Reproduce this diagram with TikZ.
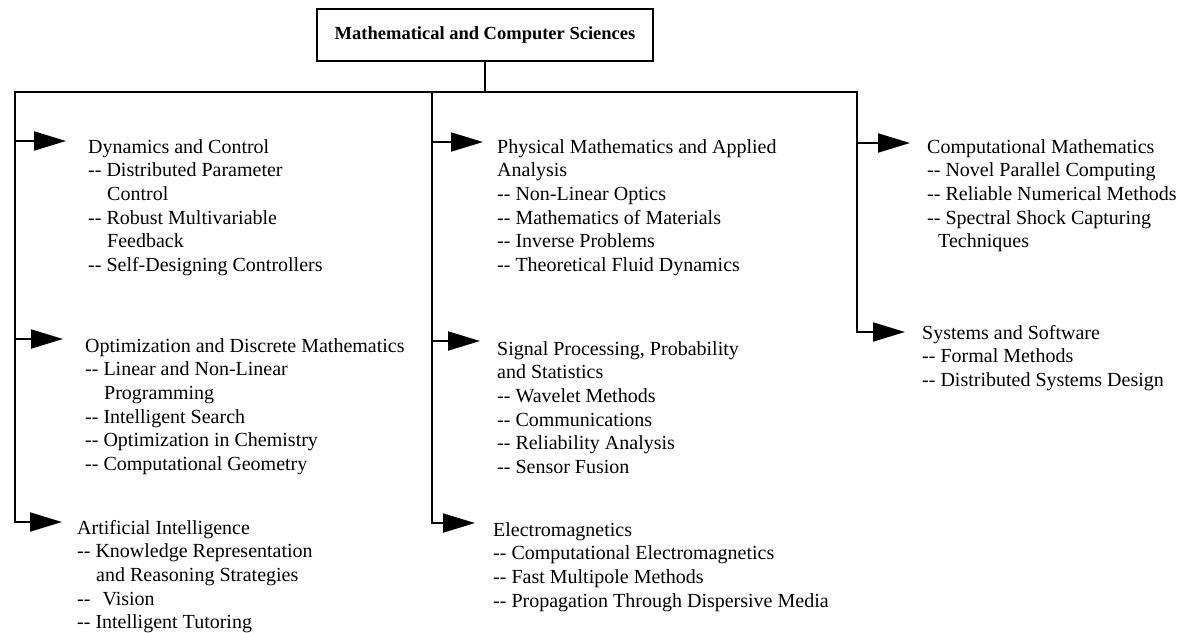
\documentclass[tikz,border=0pt]{standalone}
\usepackage{fontspec}
\setmainfont{Liberation Serif}
\usetikzlibrary{arrows.meta}
\newcommand\indt{\hspace*{19pt}}
\newcommand\dd{-{}-}
\begin{document}
\begin{tikzpicture}[x=1pt,y=-1pt,
  conn/.style={line width=2pt, line cap=rect, line join=miter},
  arr/.style={line width=2pt, -{Triangle[length=32pt,width=19pt]}},
  blk/.style={anchor=north west, inner sep=0pt, align=left, font=\fontsize{20}{23.6}\selectfont},
  titlebox/.style={draw, line width=2pt, inner sep=0pt, minimum width=336pt, minimum height=52pt, font=\fontsize{18.5}{22}\selectfont\bfseries}]
\useasboundingbox[fill=white] (0,0) rectangle (1182,632);

% title
\node[titlebox] (top) at (485,35) {Mathematical and Computer Sciences};

% junction coordinates
\coordinate (hub) at (485,92);
\coordinate (hl) at (15,92);
\coordinate (hm) at (432,92);
\coordinate (hr) at (857,92);
\coordinate (lend) at (15,522);
\coordinate (mend) at (432,523);
\coordinate (rend) at (857,332);

% text blocks
\node[blk] (dyn) at (88,136.5) {\strut Dynamics and Control\\\dd{} Distributed Parameter\\\indt Control\\\dd{} Robust Multivariable\\\indt Feedback\\\dd{} Self-Designing Controllers};
\node[blk] (opt) at (85,335.5) {\strut Optimization and Discrete Mathematics\\\dd{} Linear and Non-Linear\\\indt Programming\\\dd{} Intelligent Search\\\dd{} Optimization in Chemistry\\\dd{} Computational Geometry};
\node[blk] (ai) at (77,517.5) {\strut Artificial Intelligence\\\dd{} Knowledge Representation\\\indt and Reasoning Strategies\\\dd{}\hspace*{7pt} Vision\\\dd{} Intelligent Tutoring};

\node[blk] (phy) at (497,136.5) {\strut Physical Mathematics and Applied\\Analysis\\\dd{} Non-Linear Optics\\\dd{} Mathematics of Materials\\\dd{} Inverse Problems\\\dd{} Theoretical Fluid Dynamics};
\node[blk] (sig) at (497,338.5) {\strut Signal Processing, Probability\\and Statistics\\\dd{} Wavelet Methods\\\dd{} Communications\\\dd{} Reliability Analysis\\\dd{} Sensor Fusion};
\node[blk] (ele) at (493,519.5) {\strut Electromagnetics\\\dd{} Computational Electromagnetics\\\dd{} Fast Multipole Methods\\\dd{} Propagation Through Dispersive Media};

\node[blk] (cmp) at (927,136.5) {\strut Computational Mathematics\\\dd{} Novel Parallel Computing\\\dd{} Reliable Numerical Methods\\\dd{} Spectral Shock Capturing\\\hspace*{11pt}Techniques};
\node[blk] (sys) at (922,322.5) {\strut Systems and Software\\\dd{} Formal Methods\\\dd{} Distributed Systems Design};

% trunk lines
\draw[conn] (top.south) -- (hub);
\draw[conn] (lend) -- (hl) -- (hr) -- (rend);
\draw[conn] (hm) -- (mend);

% arrow tips
\coordinate (tdyn) at (66,141);
\coordinate (topt) at (63,339);
\coordinate (tai) at (62,522);
\coordinate (tphy) at (483,142);
\coordinate (tsig) at (480,341);
\coordinate (tele) at (475,523);
\coordinate (tcmp) at (910,143);
\coordinate (tsys) at (905,332);

\draw[arr] (15,141) -- (tdyn);
\draw[arr] (15,339) -- (topt);
\draw[arr] (lend) -- (tai);
\draw[arr] (432,142) -- (tphy);
\draw[arr] (432,341) -- (tsig);
\draw[arr] (mend) -- (tele);
\draw[arr] (857,143) -- (tcmp);
\draw[arr] (rend) -- (tsys);
\end{tikzpicture}
\end{document}
